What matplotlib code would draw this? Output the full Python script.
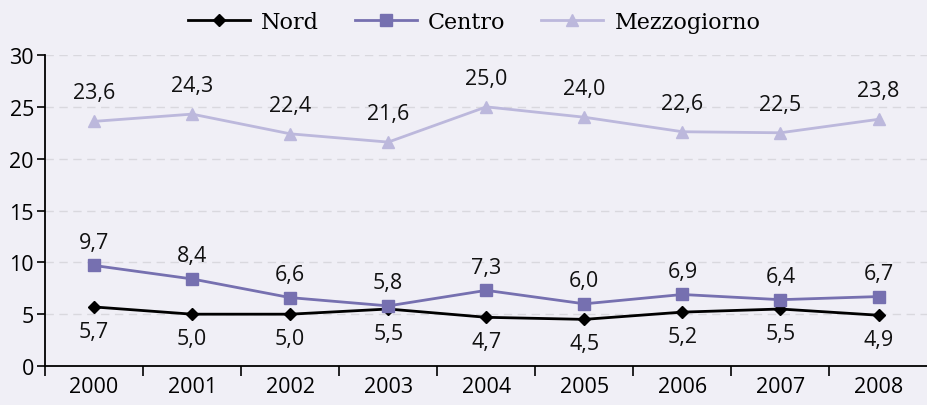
import matplotlib
matplotlib.use("Agg")
import matplotlib.pyplot as plt
import numpy as np

years = ["2000", "2001", "2002", "2003", "2004", "2005", "2006", "2007", "2008"]
nord = [5.7, 5.0, 5.0, 5.5, 4.7, 4.5, 5.2, 5.5, 4.9]
centro = [9.7, 8.4, 6.6, 5.8, 7.3, 6.0, 6.9, 6.4, 6.7]
mezzogiorno = [23.6, 24.3, 22.4, 21.6, 25.0, 24.0, 22.6, 22.5, 23.8]

bg = "#f0eff6"
c_nord = "#000000"
c_centro = "#7670b0"
c_mezz = "#bcb8dc"

plt.rcParams['font.family'] = ['Open Sans', 'DejaVu Sans']

fig = plt.figure(figsize=(9.28, 4.06), dpi=100, facecolor=bg)
ax = fig.add_axes([0.0485, 0.096, 0.951, 0.766], facecolor=bg)

x = np.arange(len(years))
ax.plot(x, nord, color=c_nord, marker="D", markersize=6, lw=2, label="Nord")
ax.plot(x, centro, color=c_centro, marker="s", markersize=9, lw=2, label="Centro")
ax.plot(x, mezzogiorno, color=c_mezz, marker="^", markersize=8, lw=2, label="Mezzogiorno")

def fmt(v):
    return f"{v:.1f}".replace(".", ",")

fs = 15.5
for xi, v in zip(x, nord):
    ax.annotate(fmt(v), (xi, v), xytext=(0, -10), textcoords="offset points",
                ha="center", va="top", fontsize=fs, color="#111111")
for xi, v in zip(x, centro):
    ax.annotate(fmt(v), (xi, v), xytext=(0, 9), textcoords="offset points",
                ha="center", va="bottom", fontsize=fs, color="#111111")
for xi, v in zip(x, mezzogiorno):
    ax.annotate(fmt(v), (xi, v), xytext=(0, 13), textcoords="offset points",
                ha="center", va="bottom", fontsize=fs, color="#111111")

ax.set_ylim(0, 30)
ax.set_yticks(np.arange(0, 31, 5))
ax.set_xlim(-0.5, len(years) - 0.5)
ax.set_xticks(x)
ax.set_xticklabels(years)
ax.set_xticks(np.arange(-0.5, len(years), 1), minor=True)
ax.tick_params(axis="x", which="major", length=0, pad=7, labelsize=fs)
ax.tick_params(axis="x", which="minor", length=7, width=1.2, direction="out")
ax.tick_params(axis="y", length=6, width=1.2, labelsize=fs, pad=2)

for s in ["top", "right"]:
    ax.spines[s].set_visible(False)
for s in ["left", "bottom"]:
    ax.spines[s].set_linewidth(1.3)

for yv in range(5, 31, 5):
    ax.axhline(yv, color="#d9d8de", lw=1, ls=(0, (6, 4)), zorder=0)

leg = fig.legend(loc="upper center", bbox_to_anchor=(0.511, 1.02), ncol=3, frameon=False,
                 prop={"family": "DejaVu Serif", "size": 16}, handlelength=2.8,
                 columnspacing=1.6, handletextpad=0.5)

fig.savefig("out.png", dpi=100, facecolor=bg)
